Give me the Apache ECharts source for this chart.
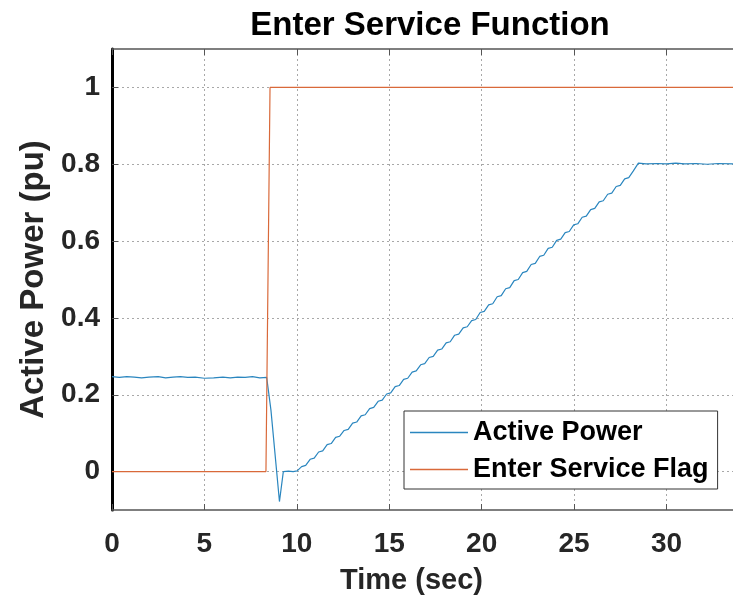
<!DOCTYPE html>
<html>
<head>
<meta charset="utf-8">
<script src="https://cdn.jsdelivr.net/npm/echarts@6/dist/echarts.min.js"></script>
<style>html,body{margin:0;padding:0;background:#fff}#c{width:733px;height:600px}</style>
</head>
<body>
<div id="c"></div>
<script>
var yTickValues = [0, 0.2, 0.4, 0.6, 0.8, 1];
var xTickValues = [0, 5, 10, 15, 20, 25, 30];

var powerTime = [
  0, 0.4, 0.8, 1.2, 1.6, 2.0, 2.5, 2.9, 3.3, 3.7, 4.1, 4.5, 5.0, 5.5, 6.0, 6.4, 6.8, 7.2, 7.6, 8.0, 8.37,
  8.6, 8.91, 9.06, 9.27, 9.55,
  9.80, 10.02, 10.26, 10.48, 10.72, 10.94, 11.18, 11.40, 11.64, 11.86, 12.10, 12.32, 12.56, 12.78,
  13.02, 13.24, 13.48, 13.70, 13.94, 14.16, 14.40, 14.62, 14.86, 15.08, 15.32, 15.54, 15.78, 16.00,
  16.24, 16.46, 16.70, 16.92, 17.16, 17.38, 17.62, 17.84, 18.08, 18.30, 18.54, 18.76, 19.00, 19.22,
  19.46, 19.68, 19.92, 20.14, 20.38, 20.60, 20.84, 21.06, 21.30, 21.52, 21.76, 21.98, 22.22, 22.44,
  22.68, 22.90, 23.14, 23.36, 23.60, 23.82, 24.06, 24.28, 24.52, 24.74, 24.98, 25.20, 25.44, 25.66,
  25.90, 26.12, 26.36, 26.58, 26.82, 27.04, 27.28, 27.50, 27.74, 27.96, 28.20, 28.48,
  28.9, 29.5, 30.0, 30.5, 31.0, 31.6, 32.2, 32.8, 33.6
];
var powerValue = [
  0.247, 0.245, 0.247, 0.246, 0.244, 0.246, 0.247, 0.244, 0.246, 0.247, 0.245, 0.246, 0.243, 0.244, 0.246, 0.244, 0.246, 0.245, 0.247, 0.244, 0.245,
  0.160, 0.000, -0.078, 0.000, 0.001,
  0.000, 0.002, 0.013, 0.016, 0.032, 0.035, 0.051, 0.054, 0.070, 0.073, 0.089, 0.092, 0.107, 0.110,
  0.126, 0.129, 0.145, 0.148, 0.164, 0.167, 0.183, 0.186, 0.202, 0.205, 0.221, 0.224, 0.240, 0.243,
  0.259, 0.262, 0.278, 0.281, 0.297, 0.300, 0.316, 0.319, 0.335, 0.338, 0.355, 0.358, 0.374, 0.377,
  0.393, 0.396, 0.414, 0.417, 0.434, 0.437, 0.455, 0.458, 0.476, 0.479, 0.497, 0.500, 0.518, 0.521,
  0.539, 0.542, 0.560, 0.563, 0.581, 0.584, 0.602, 0.605, 0.622, 0.625, 0.642, 0.645, 0.662, 0.665,
  0.682, 0.685, 0.702, 0.705, 0.722, 0.725, 0.742, 0.745, 0.762, 0.765, 0.782, 0.803,
  0.801, 0.802, 0.801, 0.803, 0.801, 0.802, 0.800, 0.802, 0.801
];
var flagTime = [0, 8.33, 8.55, 33.6];
var flagValue = [0, 0, 1, 1];

function zip(a, b) { return a.map(function (v, i) { return [v, b[i]]; }); }

var FONT = "'Liberation Sans', Arial, Helvetica, sans-serif";
var chart = echarts.init(document.getElementById('c'), null, { renderer: 'canvas' });
chart.setOption({
  animation: false,
  backgroundColor: '#fff',
  title: {
    text: 'Enter Service Function',
    left: 425, top: 4, textAlign: 'center',
    textStyle: { fontFamily: FONT, fontSize: 33, fontWeight: 'bold', color: '#000' }
  },
  legend: {
    orient: 'vertical',
    left: 404, top: 411,
    padding: [8, 9, 6, 6],
    itemGap: 10,
    icon: 'rect',
    itemWidth: 58, itemHeight: 1.5,
    borderColor: '#333', borderWidth: 1,
    backgroundColor: '#fff',
    textStyle: { fontFamily: FONT, fontSize: 27, fontWeight: 'bold', color: '#000', lineHeight: 27 },
    data: ['Active Power', 'Enter Service Flag']
  },
  grid: { left: 112, top: 49, right: 0, bottom: 90, containLabel: false, outerBoundsMode: 'none' },
  xAxis: [{
    type: 'value', min: 0, max: 33.6, interval: 5,
    name: 'Time (sec)', nameLocation: 'middle', nameGap: 56,
    nameTextStyle: { fontFamily: FONT, fontSize: 29, fontWeight: 'bold', color: '#262626', padding: [0, 22, 0, 0] },
    axisLine: { show: true, onZero: false, lineStyle: { color: '#555', width: 1.5 } },
    axisTick: { show: true, inside: true, length: 6, lineStyle: { color: '#555' }, customValues: xTickValues },
    axisLabel: { customValues: xTickValues, margin: 20, fontFamily: FONT, fontSize: 28, fontWeight: 'bold', color: '#262626' },
    splitLine: { show: true, lineStyle: { color: '#a8a8a8', type: [2, 3], width: 1 } }
  }, {
    type: 'value', position: 'top', min: 0, max: 33.6, interval: 5,
    axisLine: { show: true, onZero: false, lineStyle: { color: '#555', width: 1.5 } },
    axisTick: { show: true, inside: true, length: 6, lineStyle: { color: '#555' }, customValues: xTickValues },
    axisLabel: { show: false },
    splitLine: { show: false }
  }],
  yAxis: {
    type: 'value', min: -0.1, max: 1.1,
    name: 'Active Power (pu)', nameLocation: 'middle', nameGap: 57, nameRotate: 90,
    nameTextStyle: { fontFamily: FONT, fontSize: 33, fontWeight: 'bold', color: '#262626' },
    axisLine: { show: true, onZero: false, lineStyle: { color: '#000', width: 3 } },
    axisTick: { show: true, inside: true, length: 6, lineStyle: { color: '#555' }, customValues: yTickValues },
    axisLabel: {
      customValues: yTickValues, margin: 12,
      fontFamily: FONT, fontSize: 28, fontWeight: 'bold', color: '#262626',
      formatter: function (v) { return String(Math.round(v * 10) / 10); }
    },
    splitLine: { show: true, lineStyle: { color: '#a8a8a8', type: [2, 3], width: 1 } }
  },
  series: [{
    name: 'Active Power', type: 'line', xAxisIndex: 0,
    data: zip(powerTime, powerValue),
    showSymbol: false, symbol: 'none',
    lineStyle: { color: '#2a86bf', width: 1.2 }, itemStyle: { color: '#2a86bf' }
  }, {
    name: 'Enter Service Flag', type: 'line', xAxisIndex: 0,
    data: zip(flagTime, flagValue),
    showSymbol: false, symbol: 'none',
    lineStyle: { color: '#d9693a', width: 1.2 }, itemStyle: { color: '#d9693a' }
  }]
});
</script>
</body>
</html>
